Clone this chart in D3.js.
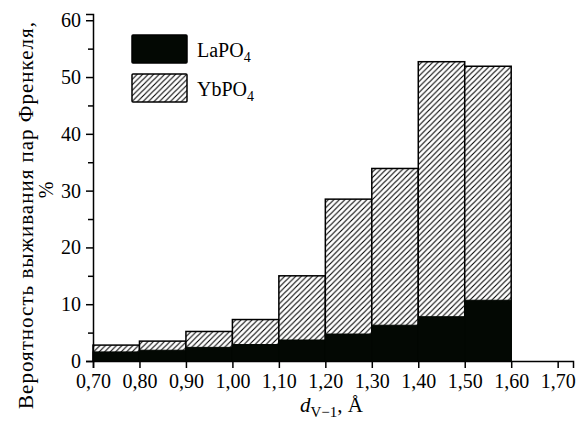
<!DOCTYPE html>
<html>
<head>
<meta charset="utf-8">
<script src="https://cdn.jsdelivr.net/npm/d3@7"></script>
<style>
  body { margin: 0; background: #fff; }
  svg text { font-family: "Liberation Serif", "Times New Roman", serif; fill: #000; }
</style>
</head>
<body>
<svg id="chart" width="579" height="423"></svg>
<script>
// Histogram: Frenkel pair survival probability vs d(V-1) for LaPO4 and YbPO4

const binStarts = [0.70, 0.80, 0.90, 1.00, 1.10, 1.20, 1.30, 1.40, 1.50];
const binWidth = 0.10;
const ybValues = [2.8, 3.5, 5.2, 7.3, 15.0, 28.5, 33.9, 52.7, 51.9];
const laValues = [1.6, 1.9, 2.4, 2.9, 3.7, 4.75, 6.3, 7.8, 10.7];
const xTicks = [0.70, 0.80, 0.90, 1.00, 1.10, 1.20, 1.30, 1.40, 1.50, 1.60, 1.70];
const yTicks = [0, 5, 10, 15, 20, 25, 30, 35, 40, 45, 50, 55, 60];
const seriesNames = ["LaPO", "YbPO"];

const svg = d3.select("#chart");
const x = d3.scaleLinear().domain([0.70, 1.733]).range([93, 573]);
const y = d3.scaleLinear().domain([0, 61.1]).range([361, 14]);

// hatch pattern "////"
const defs = svg.append("defs");
defs.append("pattern")
  .attr("id", "hatch")
  .attr("patternUnits", "userSpaceOnUse")
  .attr("width", 5.5).attr("height", 5.5)
  .call(p => {
    p.append("rect").attr("width", 5.5).attr("height", 5.5).attr("fill", "#fff");
    p.append("path")
      .attr("d", "M0,5.5 L5.5,0 M-1,1 L1,-1 M4.5,6.5 L6.5,4.5")
      .attr("stroke", "#000").attr("stroke-width", 1.1);
  });

const bars = binStarts.map((s, i) => ({ s, yb: ybValues[i], la: laValues[i] }));

// YbPO4 (hatched, full height)
svg.append("g").selectAll("rect")
  .data(bars)
  .join("rect")
  .attr("x", d => x(d.s))
  .attr("y", d => y(d.yb))
  .attr("width", d => x(d.s + binWidth) - x(d.s))
  .attr("height", d => y(0) - y(d.yb))
  .attr("fill", "url(#hatch)")
  .attr("stroke", "#000")
  .attr("stroke-width", 1.5);

// LaPO4 (solid black, drawn on top)
svg.append("g").selectAll("rect")
  .data(bars)
  .join("rect")
  .attr("x", d => x(d.s))
  .attr("y", d => y(d.la))
  .attr("width", d => x(d.s + binWidth) - x(d.s))
  .attr("height", d => y(0) - y(d.la))
  .attr("fill", "#030803")
  .attr("stroke", "#030803")
  .attr("stroke-width", 1);

// x axis
const gx = svg.append("g")
  .attr("transform", `translate(0,${y(0)})`)
  .call(d3.axisBottom(x).tickValues(xTicks).tickSize(7).tickPadding(6)
    .tickFormat(d => d.toFixed(2).replace(".", ",")));
gx.select(".domain").attr("stroke-width", 1.5);
gx.selectAll(".tick line").attr("stroke-width", 1.5);
gx.selectAll(".tick text").style("font-size", "20px");

// y axis
const gy = svg.append("g")
  .attr("transform", `translate(${x(0.70)},0)`)
  .call(d3.axisLeft(y).tickValues(yTicks).tickSize(7).tickPadding(5)
    .tickFormat(d => d % 10 === 0 ? d : ""));
gy.select(".domain").attr("stroke-width", 1.5);
gy.selectAll(".tick line")
  .attr("stroke-width", 1.5)
  .attr("x2", d => d % 10 === 0 ? -7 : -5);
gy.selectAll(".tick text").style("font-size", "20px");

// y label (two lines)
svg.append("text")
  .attr("transform", "translate(33,215) rotate(-90)")
  .attr("text-anchor", "middle")
  .style("font-size", "21px")
  .style("letter-spacing", "1px")
  .text("Вероятность выживания пар Френкеля,");
svg.append("text")
  .attr("transform", "translate(53,190) rotate(-90)")
  .attr("text-anchor", "middle")
  .style("font-size", "20px")
  .text("%");

// x label
const xl = svg.append("text")
  .attr("x", 300).attr("y", 412)
  .style("font-size", "21px");
xl.append("tspan").style("font-style", "italic").text("d");
xl.append("tspan").attr("dy", 5).style("font-size", "15px").text("V−1");
xl.append("tspan").attr("dy", -5).text(", Å");

// legend
const legend = svg.append("g");
const legendFill = ["#030803", "url(#hatch)"];
seriesNames.forEach((name, i) => {
  const g = legend.append("g").attr("transform", `translate(132,${35 + i * 39})`);
  g.append("rect")
    .attr("width", 55).attr("height", 28)
    .attr("rx", 1)
    .attr("fill", legendFill[i])
    .attr("stroke", "#000").attr("stroke-width", 1.5);
  const t = g.append("text").attr("x", 65).attr("y", 22).style("font-size", "20px");
  t.append("tspan").text(name);
  t.append("tspan").attr("dy", 5).style("font-size", "14px").text("4");
});
</script>
</body>
</html>
